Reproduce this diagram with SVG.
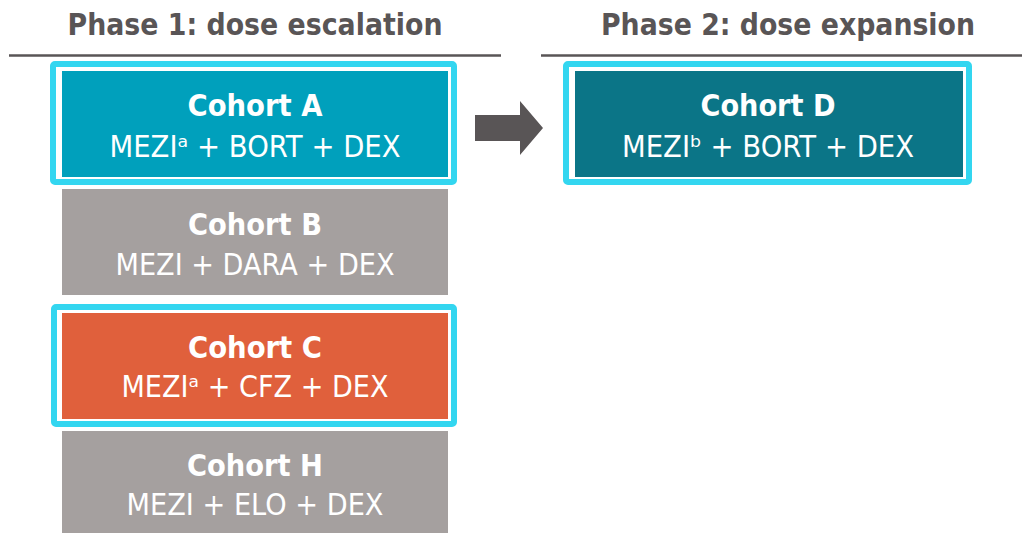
<svg xmlns="http://www.w3.org/2000/svg" width="1022" height="533" viewBox="0 0 1022 533">
<style>
.title{font-family:"DejaVu Sans","Liberation Sans",sans-serif;font-weight:bold;font-size:30px;fill:#595556;text-anchor:middle}
.h{font-family:"DejaVu Sans","Liberation Sans",sans-serif;font-weight:bold;font-size:30px;fill:#ffffff;text-anchor:middle}
.t{font-family:"DejaVu Sans","Liberation Sans",sans-serif;font-size:30px;fill:#ffffff;text-anchor:middle}
.hl{fill:none;stroke:#33D6F0;stroke-width:6}
.rule{stroke:#595556;stroke-width:2.5}
</style>
<rect width="1022" height="533" fill="#ffffff"/>
<g id="headers">
<text class="title" x="255" y="35" textLength="375" lengthAdjust="spacingAndGlyphs">Phase 1: dose escalation</text>
<text class="title" x="788" y="35" textLength="374" lengthAdjust="spacingAndGlyphs">Phase 2: dose expansion</text>
<line class="rule" x1="9" y1="55.5" x2="501" y2="55.5"/>
<line class="rule" x1="541" y1="55.5" x2="1022" y2="55.5"/>
</g>
<g id="cohortA">
<rect class="hl" x="53" y="64" width="401" height="118" rx="2"/>
<rect x="62" y="71" width="386" height="106" fill="#00A0BC"/>
<text class="h" x="255" y="116" textLength="135" lengthAdjust="spacingAndGlyphs">Cohort A</text>
<text class="t" x="255" y="157" textLength="291" lengthAdjust="spacingAndGlyphs">MEZIᵃ + BORT + DEX</text>
</g>
<g id="cohortB">
<rect x="62" y="189" width="386" height="106" fill="#A5A09F"/>
<text class="h" x="255" y="235" textLength="134" lengthAdjust="spacingAndGlyphs">Cohort B</text>
<text class="t" x="255" y="275" textLength="279" lengthAdjust="spacingAndGlyphs">MEZI + DARA + DEX</text>
</g>
<g id="cohortC">
<rect class="hl" x="54" y="307" width="400" height="117" rx="2"/>
<rect x="62" y="313" width="386" height="106" fill="#E0603C"/>
<text class="h" x="255" y="358" textLength="134" lengthAdjust="spacingAndGlyphs">Cohort C</text>
<text class="t" x="255" y="397" textLength="267" lengthAdjust="spacingAndGlyphs">MEZIᵃ + CFZ + DEX</text>
</g>
<g id="cohortH">
<rect x="62" y="431" width="386" height="102" fill="#A5A09F"/>
<text class="h" x="255" y="476" textLength="136" lengthAdjust="spacingAndGlyphs">Cohort H</text>
<text class="t" x="255" y="515" textLength="257" lengthAdjust="spacingAndGlyphs">MEZI + ELO + DEX</text>
</g>
<g id="cohortD">
<rect class="hl" x="566" y="64" width="403" height="118" rx="2"/>
<rect x="575" y="71" width="388" height="106" fill="#0B7587"/>
<text class="h" x="768" y="116" textLength="135" lengthAdjust="spacingAndGlyphs">Cohort D</text>
<text class="t" x="768" y="157" textLength="292" lengthAdjust="spacingAndGlyphs">MEZIᵇ + BORT + DEX</text>
</g>
<g id="connectors">
<polygon points="475,115 520,115 520,101 543,128 520,155 520,141 475,141" fill="#595556"/>
</g>
</svg>
